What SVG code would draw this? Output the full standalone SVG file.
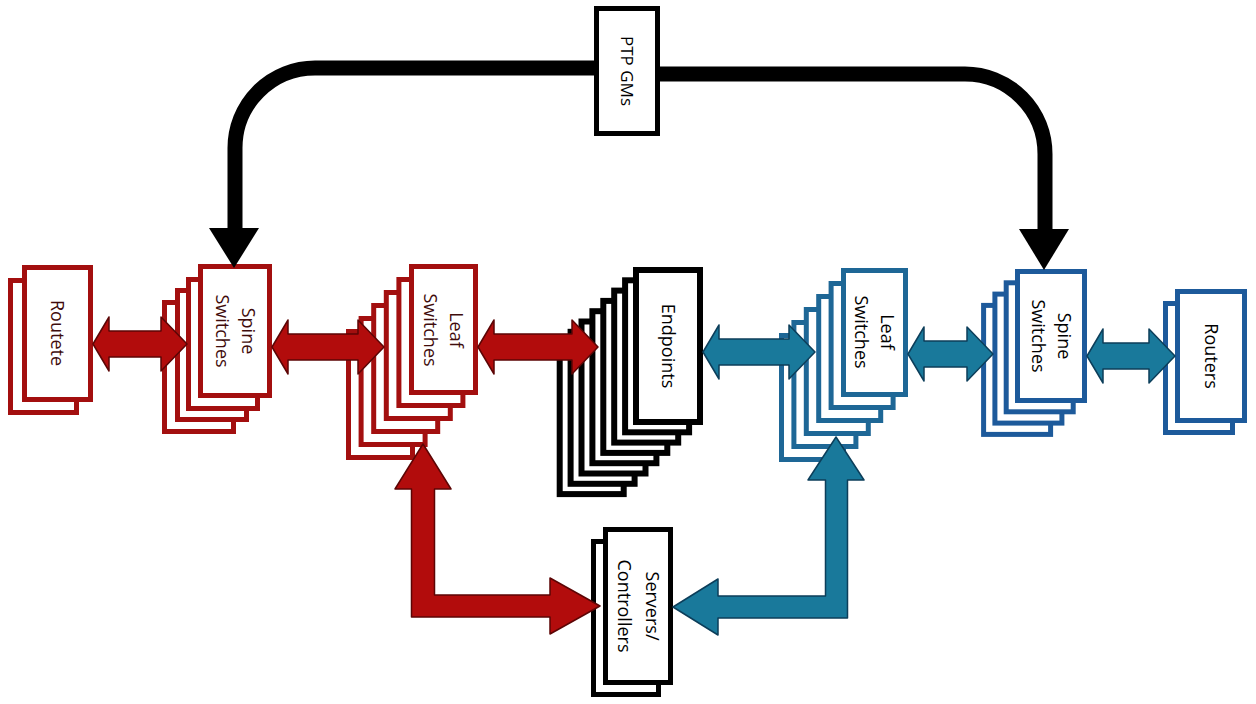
<svg xmlns="http://www.w3.org/2000/svg" width="1256" height="704" viewBox="0 0 1256 704">
<style>
.r{fill:#fff;stroke:#a30f0f;stroke-width:5}
.k{fill:#fff;stroke:#000;stroke-width:6}
.k5{fill:#fff;stroke:#000;stroke-width:5}
.t{fill:#fff;stroke:#1e6796;stroke-width:5}
.b{fill:#fff;stroke:#1d5a9b;stroke-width:5}
.lbl{font-family:"Open Sans","Liberation Sans",sans-serif;font-size:18px;fill:#000;text-anchor:middle}
.lr{fill:#3f0c0c}
.ar{fill:#b20c0c;stroke:#5c0505;stroke-width:1.5;stroke-linejoin:round}
.at{fill:#19799b;stroke:#0c3e5a;stroke-width:1.5;stroke-linejoin:round}
.pk{fill:none;stroke:#000;stroke-width:15}
</style>
<rect width="1256" height="704" fill="#fff"/>

<g id="routete">
<rect class="r" x="10.5" y="280.5" width="66" height="132"/>
<rect class="r" x="24.5" y="267.5" width="66" height="132"/>
<text class="lbl lr" transform="translate(57,333) rotate(90)" y="6.3">Routete</text>
</g>

<g id="spine-red">
<rect class="r" x="164.5" y="302.5" width="69" height="129"/>
<rect class="r" x="177.5" y="290.5" width="69" height="129"/>
<rect class="r" x="188.5" y="279.5" width="69" height="129"/>
<rect class="r" x="200.5" y="266.5" width="69" height="129"/>
<text class="lbl lr" transform="translate(235,331) rotate(90)"><tspan x="0" y="-6.7">Spine</tspan><tspan x="0" y="19.3">Switches</tspan></text>
</g>

<g id="leaf-red">
<rect class="r" x="348.5" y="331.5" width="64" height="126"/>
<rect class="r" x="361.1" y="318.5" width="64" height="126"/>
<rect class="r" x="373.7" y="305.5" width="64" height="126"/>
<rect class="r" x="386.3" y="292.5" width="64" height="126"/>
<rect class="r" x="398.9" y="279.5" width="64" height="126"/>
<rect class="r" x="411.5" y="266.5" width="64" height="126"/>
<text class="lbl lr" transform="translate(443.5,330) rotate(90)"><tspan x="0" y="-6.7">Leaf</tspan><tspan x="0" y="19.3">Switches</tspan></text>
</g>

<g id="endpoints">
<rect class="k" x="559.7" y="342.1" width="64" height="152"/>
<rect class="k" x="570.6" y="331.8" width="64" height="152"/>
<rect class="k" x="581.5" y="321.5" width="64" height="152"/>
<rect class="k" x="592.4" y="311.2" width="64" height="152"/>
<rect class="k" x="603.3" y="300.9" width="64" height="152"/>
<rect class="k" x="614.2" y="290.6" width="64" height="152"/>
<rect class="k" x="625.1" y="280.3" width="64" height="152"/>
<rect class="k" x="636" y="270" width="64" height="152"/>
<text class="lbl" transform="translate(668,346) rotate(90)" y="6.3">Endpoints</text>
</g>

<g id="leaf-blue">
<rect class="t" x="781.5" y="335.5" width="62" height="124"/>
<rect class="t" x="793.9" y="322.5" width="62" height="124"/>
<rect class="t" x="806.3" y="309.5" width="62" height="124"/>
<rect class="t" x="818.7" y="296.5" width="62" height="124"/>
<rect class="t" x="831.1" y="283.5" width="62" height="124"/>
<rect class="t" x="843.5" y="270.5" width="62" height="124"/>
<text class="lbl" transform="translate(874.5,332) rotate(90)"><tspan x="0" y="-6.7">Leaf</tspan><tspan x="0" y="19.3">Switches</tspan></text>
</g>

<g id="spine-blue">
<rect class="b" x="983.6" y="305.4" width="67" height="129"/>
<rect class="b" x="994.9" y="294.1" width="67" height="129"/>
<rect class="b" x="1006.2" y="282.8" width="67" height="129"/>
<rect class="b" x="1017.5" y="271.5" width="67" height="129"/>
<text class="lbl" transform="translate(1051,336) rotate(90)"><tspan x="0" y="-6.7">Spine</tspan><tspan x="0" y="19.3">Switches</tspan></text>
</g>

<g id="routers">
<rect class="b" x="1165.5" y="303.5" width="67" height="129"/>
<rect class="b" x="1177.5" y="291.5" width="67" height="129"/>
<text class="lbl" transform="translate(1211,356) rotate(90)" y="6.3">Routers</text>
</g>

<g id="servers">
<rect class="k5" x="593.5" y="541.5" width="65" height="153"/>
<rect class="k5" x="605.5" y="529.5" width="65" height="153"/>
<text class="lbl" transform="translate(638,606) rotate(90)"><tspan x="0" y="-7.7">Servers/</tspan><tspan x="0" y="20.3">Controllers</tspan></text>
</g>

<g id="ptp">
<rect class="k5" x="596.5" y="8.5" width="61" height="125"/>
<text class="lbl" style="font-size:17px" transform="translate(627,71) rotate(90)" y="6">PTP GMs</text>
</g>

<g id="connectors">
<path class="pk" d="M594 68H315A80 80 0 0 0 235 148V232"/>
<polygon points="209,228 259,228 234,268" fill="#000"/>
<path class="pk" d="M660 74H965A80 80 0 0 1 1045 154V233"/>
<polygon points="1019,229 1069,229 1044,270" fill="#000"/>

<polygon class="ar" points="93,344 109,317 109,331 161,331 161,317 187,344 161,371 161,357 109,357 109,371"/>
<polygon class="ar" points="272,347 288,320 288,334 358,334 358,320 384,347 358,374 358,360 288,360 288,374"/>
<polygon class="ar" points="478,347 494,320 494,334 572,334 572,320 598,347 572,374 572,360 494,360 494,374"/>
<polygon class="at" points="703,352 719,325 719,339 789,339 789,325 815,352 789,379 789,365 719,365 719,379"/>
<polygon class="at" points="908,354 924,327 924,341 967,341 967,327 993,354 967,381 967,367 924,367 924,381"/>
<polygon class="at" points="1087,356 1103,329 1103,343 1149,343 1149,329 1175,356 1149,383 1149,369 1103,369 1103,383"/>

<polygon class="ar" points="423,444 451,489 434.5,489 434.5,595 550,595 550,578 600,606 550,634 550,617 411.5,617 411.5,489 395,489"/>
<polygon class="at" points="836,437 864,480 847.5,480 847.5,618 718,618 718,635 673,607 718,579 718,596 825.5,596 825.5,480 808,480"/>
</g>
</svg>
